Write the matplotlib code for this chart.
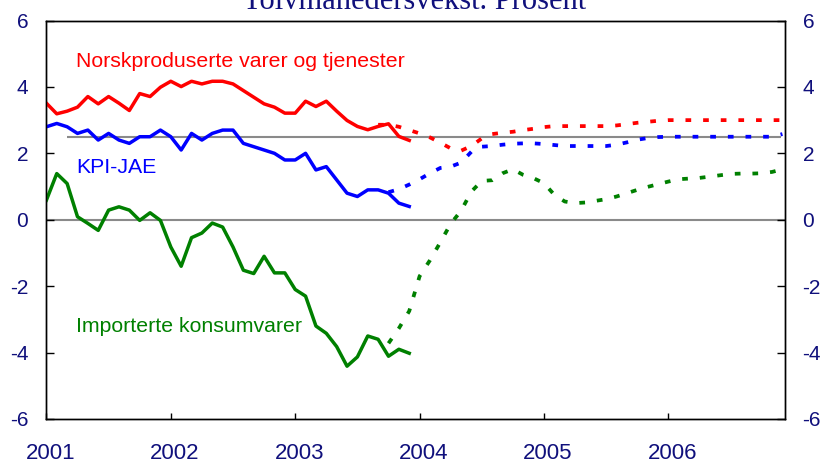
import matplotlib
matplotlib.use('Agg')
import matplotlib.pyplot as plt
from matplotlib.transforms import ScaledTranslation
import numpy as np

plt.rcParams['font.family'] = ['Liberation Sans', 'DejaVu Sans']
plt.rcParams['lines.scale_dashes'] = False

# ---------------- data ----------------
start_year = 2001
# monthly, Jan 2001 - Dec 2003 (actual)
red_actual = [3.51, 3.19, 3.27, 3.39, 3.71, 3.49, 3.71, 3.51, 3.29, 3.80, 3.71, 3.99,
              4.17, 4.01, 4.17, 4.09, 4.17, 4.17, 4.09, 3.89, 3.69, 3.49, 3.39, 3.21,
              3.21, 3.57, 3.41, 3.57, 3.27, 2.99, 2.81, 2.71, 2.81, 2.89, 2.51, 2.39]
blue_actual = [2.80, 2.90, 2.80, 2.60, 2.70, 2.40, 2.60, 2.40, 2.30, 2.50, 2.50, 2.70,
               2.50, 2.10, 2.60, 2.40, 2.60, 2.70, 2.70, 2.30, 2.20, 2.10, 2.00, 1.80,
               1.80, 2.00, 1.50, 1.60, 1.20, 0.80, 0.70, 0.90, 0.90, 0.80, 0.50, 0.40]
green_actual = [0.59, 1.39, 1.09, 0.09, -0.11, -0.32, 0.29, 0.39, 0.29, -0.02, 0.21, -0.02,
                -0.82, -1.40, -0.54, -0.40, -0.10, -0.22, -0.82, -1.52, -1.62, -1.10, -1.60, -1.60,
                -2.10, -2.30, -3.20, -3.42, -3.82, -4.41, -4.13, -3.50, -3.60, -4.11, -3.90, -4.02]

# projections (month index from Jan 2001 = 0)
red_proj_start = 32
red_proj = [2.86, 2.86, 2.80, 2.70, 2.60, 2.48, 2.32, 2.15, 2.08, 2.22, 2.45, 2.58,
            2.62, 2.65, 2.70, 2.74, 2.79, 2.82, 2.82, 2.82, 2.82, 2.82, 2.82, 2.84,
            2.88, 2.92, 2.95, 2.98, 3.00, 3.00, 3.00, 3.00, 3.00, 3.00, 3.00, 3.00,
            3.00, 3.00, 3.00, 3.00]
blue_proj_start = 33
blue_proj = [0.83, 0.92, 1.06, 1.22, 1.40, 1.56, 1.60, 1.72, 2.05, 2.20, 2.22, 2.26,
             2.29, 2.30, 2.30, 2.28, 2.25, 2.22, 2.22, 2.22, 2.22, 2.22, 2.26, 2.33,
             2.41, 2.46, 2.49, 2.50, 2.50, 2.50, 2.50, 2.50, 2.50, 2.50, 2.50, 2.50,
             2.50, 2.50, 2.58]
green_proj_start = 33
green_proj = [-3.72, -3.27, -2.75, -1.70, -1.22, -0.68, -0.12, 0.27, 0.85, 1.17, 1.19, 1.40,
              1.52, 1.35, 1.25, 1.10, 0.75, 0.55, 0.50, 0.52, 0.57, 0.62, 0.70, 0.80,
              0.90, 0.99, 1.07, 1.15, 1.22, 1.24, 1.26, 1.30, 1.34, 1.38, 1.39, 1.39,
              1.40, 1.44, 1.52]

inflation_target = 2.5
target_start_month = 2
year_ticks = [2001, 2002, 2003, 2004, 2005, 2006]
year_labels = ['2001', '2002', '2003', '2004', '2005', '2006']
y_ticks = [-6, -4, -2, 0, 2, 4, 6]
y_labels = ['-6', '-4', '-2', '0', '2', '4', '6']

title = 'Tolvmånedersvekst. Prosent'
label_red = 'Norskproduserte varer og tjenester'
label_blue = 'KPI-JAE'
label_green = 'Importerte konsumvarer'

RED, BLUE, GREEN = '#ff0000', '#0000ff', '#008000'
NAVY = '#10107c'
GRAY = '#8a8a8a'


def mx(start, n):
    return start_year + (start + np.arange(n)) / 12.0


# ---------------- figure ----------------
W, H = 826, 466
fig = plt.figure(figsize=(W / 100, H / 100), dpi=100)
L, R, T, B = 46.4, 784.5, 20.5, 419.0
ax = fig.add_axes([L / W, 1 - B / H, (R - L) / W, (B - T) / H])
x_end = start_year + (R - L) / 124.4
ax.set_xlim(start_year, x_end)
ax.set_ylim(-6, 6)

ax.axhline(0, color=GRAY, lw=1.5, zorder=1)
ax.hlines(inflation_target, start_year + target_start_month / 12.0, x_end - 0.03,
          color=GRAY, lw=1.5, zorder=1)

lw = 2.5
dash = (0, (4.1, 8.6))
ax.plot(mx(0, len(red_actual)), red_actual, color=RED, lw=lw, zorder=3, solid_joinstyle='round')
ax.plot(mx(0, len(blue_actual)), blue_actual, color=BLUE, lw=lw, zorder=3, solid_joinstyle='round')
ax.plot(mx(0, len(green_actual)), green_actual, color=GREEN, lw=lw, zorder=3, solid_joinstyle='round')
ax.plot(mx(red_proj_start, len(red_proj)), red_proj, color=RED, lw=lw + 0.2, ls=dash, zorder=3)
ax.plot(mx(blue_proj_start, len(blue_proj)), blue_proj, color=BLUE, lw=lw + 0.2, ls=dash, zorder=3)
ax.plot(mx(green_proj_start, len(green_proj)), green_proj, color=GREEN, lw=lw + 0.2, ls=dash, zorder=3)

tx = start_year + (76 - L) / 124.4
ax.text(tx, 4.59, label_red, color=RED, fontsize=15.3, va='baseline', ha='left')
ax.text(tx, 1.40, label_blue, color=BLUE, fontsize=15.3, va='baseline', ha='left')
ax.text(tx, -3.38, label_green, color=GREEN, fontsize=15.3, va='baseline', ha='left')

for s in ax.spines.values():
    s.set_linewidth(1.0)
    s.set_color('black')

ax.set_xticks(year_ticks)
ax.set_xticklabels(year_labels)
ax.set_yticks(y_ticks)
ax.set_yticklabels(y_labels)
ax.tick_params(axis='x', direction='in', length=4, width=1, labelsize=16,
               labelcolor=NAVY, pad=17.5)
ax.tick_params(axis='y', direction='in', length=5.5, width=1, labelsize=15,
               labelcolor=NAVY, pad=13)
off = ScaledTranslation(4 / 100, 0, fig.dpi_scale_trans)
for lab in ax.get_xticklabels():
    lab.set_transform(lab.get_transform() + off)

ax2 = ax.twinx()
ax2.set_ylim(-6, 6)
ax2.set_yticks(y_ticks)
ax2.set_yticklabels(y_labels)
ax2.tick_params(axis='y', direction='in', length=5.5, width=1, labelsize=15,
                labelcolor=NAVY, pad=13)
for s in ax2.spines.values():
    s.set_linewidth(1.0)

fig.text(415 / W, 1 - 9 / H, title, ha='center', va='baseline', fontsize=22,
         family=['Liberation Serif', 'DejaVu Serif'], color=NAVY)

fig.savefig('out.png', dpi=100)
